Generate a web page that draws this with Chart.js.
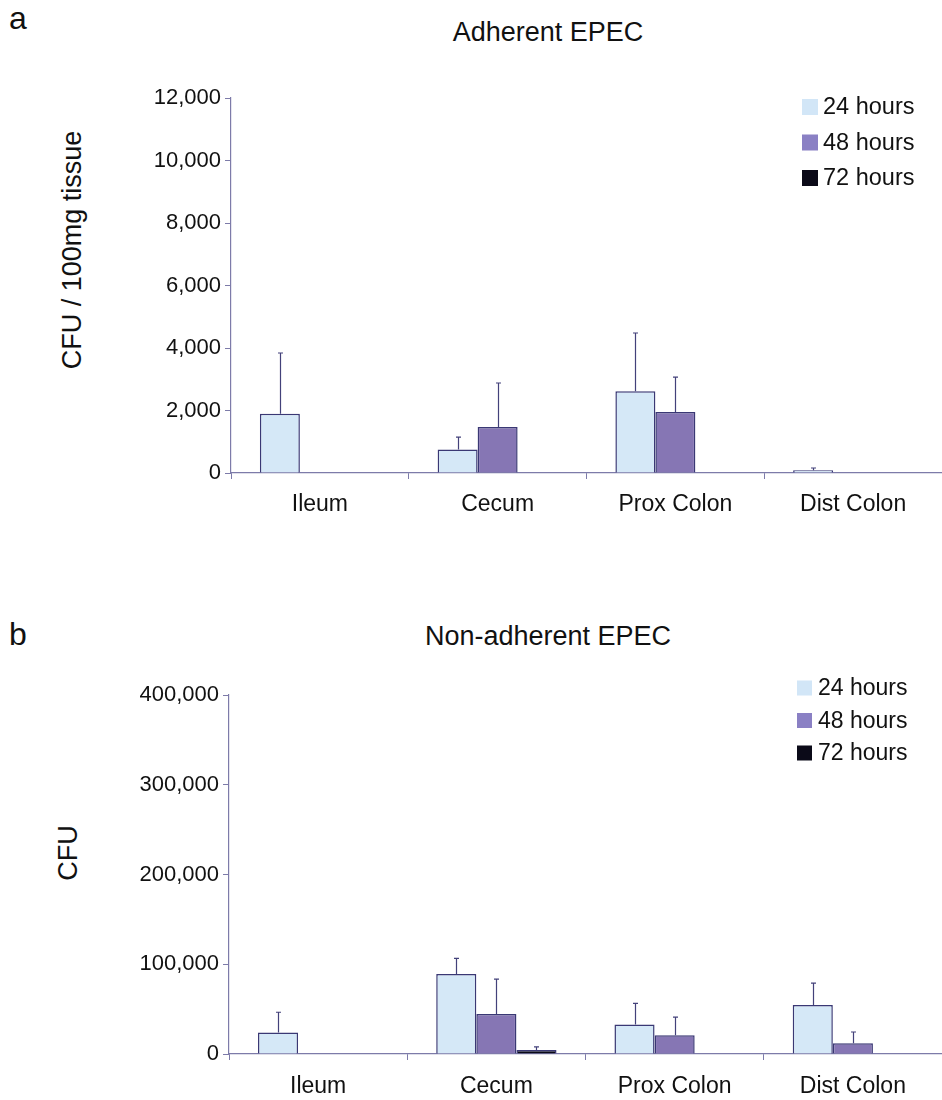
<!DOCTYPE html>
<html>
<head>
<meta charset="utf-8">
<title>EPEC colonisation</title>
<script src="https://cdn.jsdelivr.net/npm/chart.js@4.4.1/dist/chart.umd.min.js"></script>
<style>
  body { margin: 0; background: #fff; }
  #page { position: relative; width: 942px; height: 1100px; overflow: hidden;
          font-family: "Liberation Sans", Arial, Helvetica, sans-serif; color: #111; }
  .panel { position: absolute; left: 0; width: 942px; }
  .letter { position: absolute; left: 9px; font-size: 32px; line-height: 1; }
  .title { position: absolute; font-size: 27px; line-height: 1; white-space: nowrap; transform: translateX(-50%); }
  .ytitle { position: absolute; font-size: 27px; line-height: 1; white-space: nowrap;
            transform: translate(-50%, -50%) rotate(-90deg); }
</style>
</head>
<body>
<div id="page">
  <div class="letter" style="top:2px">a</div>
  <div class="title" style="left:548px; top:19px">Adherent EPEC</div>
  <div class="ytitle" style="left:72px; top:250px">CFU / 100mg tissue</div>
  <div class="panel" style="top:0; height:540px"><canvas id="chartA" width="942" height="540"></canvas></div>

  <div class="letter" style="top:618px">b</div>
  <div class="title" style="left:548px; top:623px">Non-adherent EPEC</div>
  <div class="ytitle" style="left:68px; top:853px">CFU</div>
  <div class="panel" style="top:610px; height:490px"><canvas id="chartB" width="942" height="490"></canvas></div>
</div>

<script>
// Gut sections sampled and the three time points after infection
const categories = ['Ileum', 'Cecum', 'Prox Colon', 'Dist Colon'];
const timePoints = ['24 hours', '48 hours', '72 hours'];

// Panel a: adherent EPEC, CFU per 100 mg tissue (mean and upper error)
const adherent24 = [1900, 750, 2620, 90];
const adherent48 = [0, 1470, 1950, 0];
const adherent72 = [0, 0, 0, 0];
const adherent24Err = [1940, 400, 1860, 70];
const adherent48Err = [0, 1410, 1120, 0];
const adherent72Err = [0, 0, 0, 0];
const adherentAxisMax = 12000;
const adherentAxisStep = 2000;

// Panel b: non-adherent EPEC, total CFU (mean and upper error)
const nonAdherent24 = [24000, 89000, 33000, 54500];
const nonAdherent48 = [0, 44500, 21000, 12000];
const nonAdherent72 = [0, 4500, 0, 0];
const nonAdherent24Err = [22500, 17500, 23500, 24500];
const nonAdherent48Err = [0, 39000, 20000, 12500];
const nonAdherent72Err = [0, 3500, 0, 0];
const nonAdherentAxisMax = 400000;
const nonAdherentAxisStep = 100000;

const FONT = '"Liberation Sans", Arial, Helvetica, sans-serif';
const AXIS = '#7d7ba9';
const EDGE = '#3a3874';
const FILLS = ['#d5e8f7', '#8676b4', '#0b0a18'];
const SWATCHES = ['#d2e6f7', '#8a80c4', '#0b0a18'];

// Upward-only error bars with a small cap, placed on each bar's centre
const errorBars = {
  id: 'errorBars',
  afterDatasetsDraw(chart, args, opts) {
    const ctx = chart.ctx;
    const yScale = chart.scales.y;
    chart.data.datasets.forEach((ds, i) => {
      const meta = chart.getDatasetMeta(i);
      meta.data.forEach((bar, j) => {
        const e = ds.errorPlus ? ds.errorPlus[j] : 0;
        if (!e) return;
        const top = yScale.getPixelForValue(ds.data[j] + e);
        const x = Math.round(bar.x) + 0.5;
        ctx.save();
        ctx.strokeStyle = opts.color;
        ctx.lineWidth = opts.width;
        ctx.beginPath();
        ctx.moveTo(x, bar.y);
        ctx.lineTo(x, top);
        ctx.moveTo(x - opts.cap, top);
        ctx.lineTo(x + opts.cap, top);
        ctx.stroke();
        ctx.restore();
      });
    });
  }
};

// Stacked legend in the upper right corner of the plot
const cornerLegend = {
  id: 'cornerLegend',
  afterDraw(chart, args, o) {
    const ctx = chart.ctx;
    ctx.save();
    ctx.font = o.size + 'px ' + FONT;
    ctx.textBaseline = 'middle';
    ctx.textAlign = 'left';
    chart.data.datasets.forEach((ds, i) => {
      const cy = o.y + i * o.gap;
      ctx.fillStyle = SWATCHES[i];
      ctx.fillRect(o.x, cy - o.box / 2, o.box, o.box);
      ctx.fillStyle = '#111';
      ctx.fillText(ds.label, o.x + o.box + o.space, cy + 1);
    });
    ctx.restore();
  }
};

function buildDatasets(values, errors) {
  return timePoints.map((name, i) => ({
    label: name,
    data: values[i],
    errorPlus: errors[i],
    backgroundColor: FILLS[i],
    borderColor: EDGE,
    borderWidth: 1.5,
    borderSkipped: 'start',
    categoryPercentage: 0.675,
    barPercentage: 1.0
  }));
}

function drawPanel(id, cfg) {
  return new Chart(document.getElementById(id), {
    type: 'bar',
    data: { labels: categories, datasets: buildDatasets(cfg.values, cfg.errors) },
    plugins: [errorBars, cornerLegend],
    options: {
      responsive: false,
      animation: false,
      devicePixelRatio: 1,
      layout: { padding: { top: cfg.padTop, left: 0, right: 0, bottom: 0 } },
      plugins: {
        legend: { display: false },
        tooltip: { enabled: false },
        title: { display: false },
        errorBars: { color: '#43417a', width: 1.2, cap: 2.5 },
        cornerLegend: cfg.legend
      },
      scales: {
        x: {
          afterFit(scale) { scale.height = cfg.xHeight; },
          grid: { display: true, drawOnChartArea: false, drawTicks: true, tickLength: 6, color: AXIS, offset: true },
          border: { display: true, color: AXIS, width: 1.2 },
          ticks: { color: '#111', font: { family: FONT, size: 23 }, padding: cfg.xPad, maxRotation: 0 }
        },
        y: {
          min: 0,
          max: cfg.max,
          afterFit(scale) { scale.width = cfg.yWidth; },
          grid: { display: true, drawOnChartArea: false, drawTicks: true, tickLength: 6, color: AXIS },
          border: { display: true, color: AXIS, width: 1.2 },
          ticks: {
            stepSize: cfg.step,
            color: '#111',
            padding: 4,
            font: { family: FONT, size: 22 },
            callback: v => Number(v).toLocaleString('en-US')
          }
        }
      }
    }
  });
}

drawPanel('chartA', {
  values: [adherent24, adherent48, adherent72],
  errors: [adherent24Err, adherent48Err, adherent72Err],
  max: adherentAxisMax, step: adherentAxisStep,
  padTop: 98, yWidth: 231, xHeight: 67, xPad: 12,
  legend: { x: 802, y: 107, gap: 35.5, box: 16, space: 5, size: 23.5 }
});

drawPanel('chartB', {
  values: [nonAdherent24, nonAdherent48, nonAdherent72],
  errors: [nonAdherent24Err, nonAdherent48Err, nonAdherent72Err],
  max: nonAdherentAxisMax, step: nonAdherentAxisStep,
  padTop: 85, yWidth: 229, xHeight: 46, xPad: 13,
  legend: { x: 797, y: 78, gap: 32.5, box: 15, space: 6, size: 23 }
});
</script>
</body>
</html>
